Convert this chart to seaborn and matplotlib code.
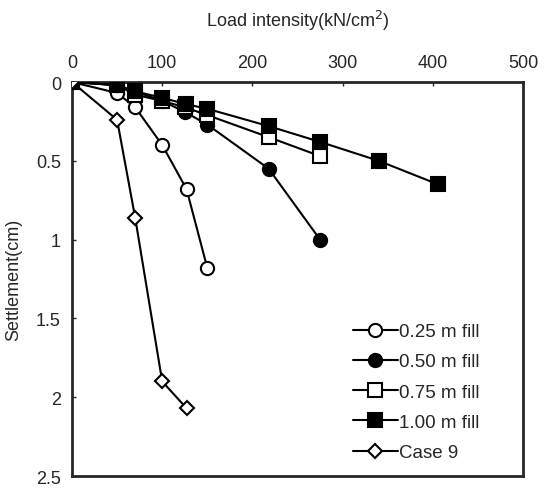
import matplotlib
matplotlib.use("Agg")
from matplotlib import pyplot as plt
import seaborn as sns
import pandas as pd

# load (x) vs settlement (y) for each test
load_025 = [0, 50, 70, 100, 127, 150]
sett_025 = [0, 0.07, 0.16, 0.40, 0.68, 1.18]
load_050 = [0, 50, 100, 125, 150, 218, 275]
sett_050 = [0, 0.02, 0.12, 0.19, 0.27, 0.55, 1.00]
load_075 = [0, 50, 70, 100, 125, 150, 218, 275]
sett_075 = [0, 0.02, 0.08, 0.12, 0.16, 0.21, 0.35, 0.47]
load_100 = [0, 50, 70, 100, 126, 150, 218, 275, 340, 406]
sett_100 = [0, 0.02, 0.06, 0.10, 0.14, 0.17, 0.28, 0.38, 0.50, 0.65]
load_c9 = [0, 50, 70, 100, 127]
sett_c9 = [0, 0.24, 0.86, 1.90, 2.07]

labels = ['0.25 m fill', '0.50 m fill', '0.75 m fill', '1.00 m fill', 'Case 9']
x_ticks = [0, 100, 200, 300, 400, 500]
y_ticks = [0, 0.5, 1, 1.5, 2, 2.5]

sns.set_style('ticks')
plt.rcParams['font.family'] = ['Liberation Sans', 'DejaVu Sans']

fig = plt.figure(figsize=(5.44, 4.89), dpi=100)
ax = fig.add_axes([72 / 544, 1 - 477 / 489, 451 / 544, 394 / 489])

series = [
    (load_025, sett_025, 'o', 'white'),
    (load_050, sett_050, 'o', 'black'),
    (load_075, sett_075, 's', 'white'),
    (load_100, sett_100, 's', 'black'),
    (load_c9, sett_c9, 'D', 'white'),
]
for (xs, ys, mk, fc), lab in zip(series, labels):
    df = pd.DataFrame({'load': xs, 'settlement': ys})
    ms = 7.5 if mk == 'D' else 9.5
    sns.lineplot(data=df, x='load', y='settlement', ax=ax, color='black',
                 linewidth=1.5, marker=mk, markersize=ms, markerfacecolor=fc,
                 markeredgecolor='black', markeredgewidth=1.5, label=lab,
                 sort=False, zorder=3)

ax.set_xlim(0, 500)
ax.set_ylim(2.5, 0)
ax.set_xticks(x_ticks)
ax.set_yticks(y_ticks)
ax.set_yticklabels(['0', '0.5', '1', '1.5', '2', '2.5'])
ax.xaxis.tick_top()
ax.xaxis.set_label_position('top')
ax.tick_params(direction='in', length=3, width=1, labelsize=13, pad=8)
for s in ax.spines.values():
    s.set_linewidth(2)
    s.set_visible(True)
ax.set_xlabel('Load intensity(kN/cm$^2$)', fontsize=13, labelpad=20)
ax.set_ylabel('Settlement(cm)', fontsize=13, labelpad=10)
ax.grid(False)

leg = ax.legend(loc='lower right', frameon=False, fontsize=13.5,
                handlelength=2.4, handletextpad=0.05, labelspacing=0.7,
                bbox_to_anchor=(0.94, -0.005))

fig.savefig('out.png', dpi=100)
